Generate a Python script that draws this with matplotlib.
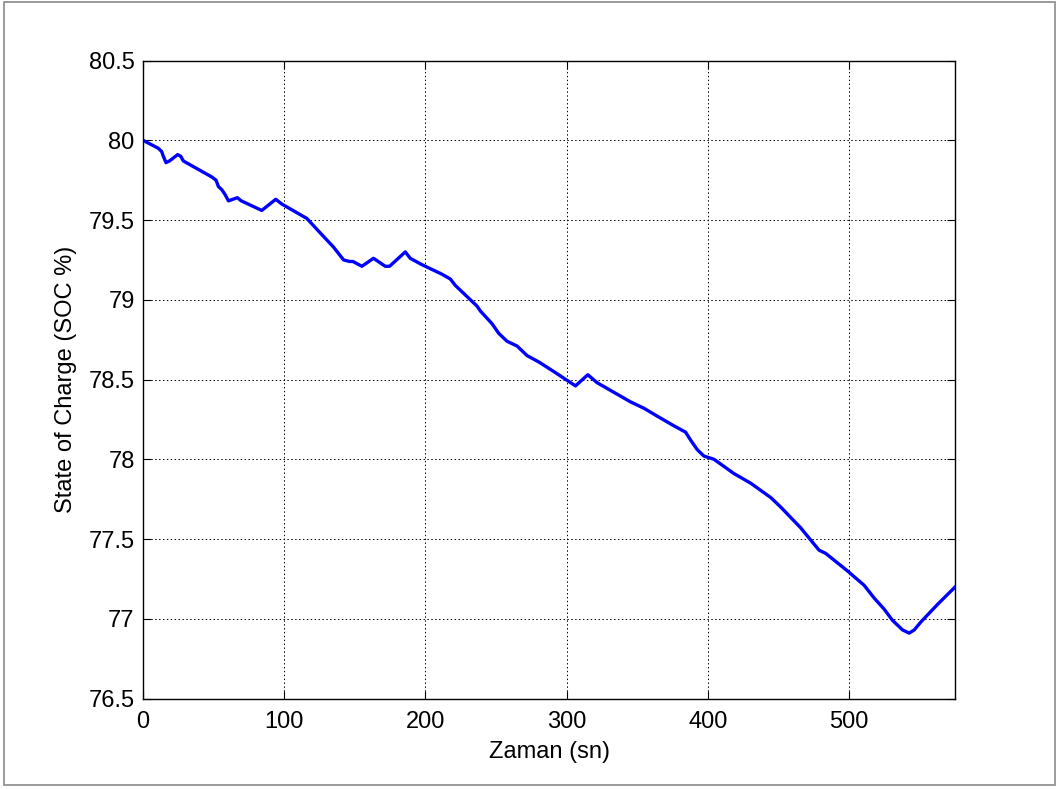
import matplotlib
matplotlib.use("Agg")
import matplotlib.pyplot as plt
from matplotlib.patches import Rectangle

time_s = [0, 10.8, 13.2, 14.4, 16.3, 18.7, 24.6, 26.7, 28.6, 48.7, 51.7, 53.4, 55.8,
          58.1, 60.5, 66.8, 69.6, 84.1, 94.0, 98.3, 116.0, 125.4, 134.9, 142.0,
          146.2, 148.6, 155.0, 163.2, 171.5, 174.6, 185.7, 189.2, 197.5, 211.7,
          217.6, 221.1, 236.5, 238.8, 247.1, 251.8, 257.7, 264.8, 271.9, 280.2,
          290.8, 306.2, 314.9, 321.5, 333.3, 345.1, 354.6, 364.1, 375.8, 384.1,
          387.7, 392.4, 397.1, 404.2, 418.4, 430.2, 444.4, 451.5, 465.6, 478.6,
          483.3, 498.7, 510.5, 517.6, 524.7, 530.6, 537.7, 542.4, 546.0, 550.7,
          562.5, 575.0]
soc = [80.00, 79.95, 79.93, 79.90, 79.86, 79.87, 79.91, 79.90, 79.87, 79.77, 79.75,
       79.71, 79.69, 79.66, 79.62, 79.64, 79.62, 79.56, 79.63, 79.60, 79.51, 79.42,
       79.33, 79.25, 79.24, 79.24, 79.21, 79.26, 79.21, 79.21, 79.30, 79.26, 79.22,
       79.16, 79.13, 79.09, 78.96, 78.93, 78.85, 78.79, 78.74, 78.71, 78.65, 78.61,
       78.55, 78.46, 78.53, 78.48, 78.42, 78.36, 78.32, 78.27, 78.21, 78.17, 78.12,
       78.06, 78.02, 78.00, 77.91, 77.85, 77.76, 77.70, 77.57, 77.43, 77.41, 77.30,
       77.21, 77.13, 77.06, 76.99, 76.93, 76.91, 76.93, 76.98, 77.09, 77.20]

x_ticks = [0, 100, 200, 300, 400, 500]
y_ticks = [76.5, 77, 77.5, 78, 78.5, 79, 79.5, 80, 80.5]
y_tick_labels = ["76.5", "77", "77.5", "78", "78.5", "79", "79.5", "80", "80.5"]

plt.rcParams['font.family'] = ['Liberation Sans', 'DejaVu Sans']

fig = plt.figure(figsize=(10.59, 7.89), dpi=100)
fig.patches.append(Rectangle((0.004, 0.005), 0.992, 0.992, transform=fig.transFigure,
                             fill=False, edgecolor='#8a8a8a', linewidth=1.2))
ax = fig.add_axes([0.135, 0.1147, 0.767, 0.8086])

ax.plot(time_s, soc, color='#0000ff', linewidth=2.4, solid_joinstyle='round')

ax.set_xlim(0, 575)
ax.set_ylim(76.5, 80.5)
ax.set_xticks(x_ticks)
ax.set_yticks(y_ticks)
ax.set_yticklabels(y_tick_labels)
ax.grid(True, color='black', linestyle=(0, (1.5, 2.5)), linewidth=0.7)
ax.tick_params(direction='in', length=6, width=0.8, top=True, right=True,
               labelsize=17, colors='black')
ax.tick_params(axis='y', pad=6)
ax.tick_params(axis='x', pad=9)
for s in ax.spines.values():
    s.set_linewidth(1.0)
ax.set_xlabel('Zaman (sn)', fontsize=17, labelpad=6)
ax.set_ylabel('State of Charge (SOC %)', fontsize=17, labelpad=8)

fig.savefig('out.png', dpi=100)
